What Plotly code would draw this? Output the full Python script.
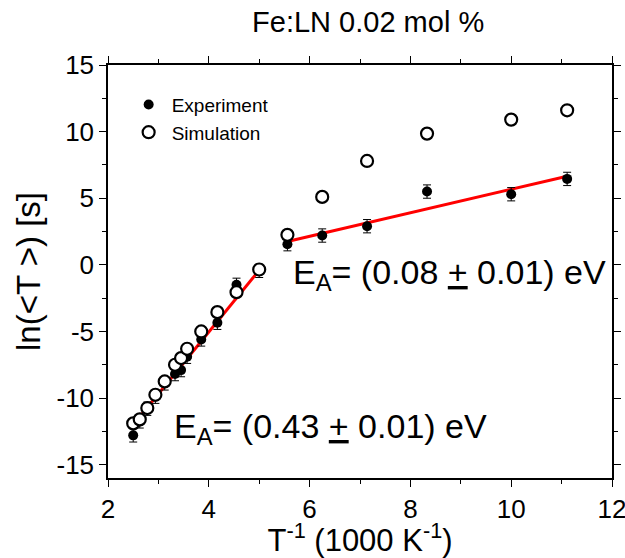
import plotly.graph_objects as go

# 1000/T values (1000 K^-1)
x_vals = [2.5, 2.63, 2.78, 2.94, 3.125, 3.33, 3.45, 3.57, 3.85, 4.17, 4.55, 5.0,
          5.56, 6.25, 7.14, 8.33, 10.0, 11.11]
exp_y = [-12.8, -11.75, -10.8, -9.9, -8.9, -8.2, -7.9, -6.9, -5.6, -4.35, -1.5, -0.45,
         1.55, 2.2, 2.9, 5.5, 5.3, 6.45]
exp_err = [0.5] * len(x_vals)
sim_y = [-11.9, -11.6, -10.75, -9.75, -8.75, -7.5, -7.0, -6.3, -5.0, -3.55, -2.05, -0.35,
         2.25, 5.1, 7.8, 9.85, 10.9, 11.6]

fit_low_x = [2.5, 5.0]
fit_low_y = [-12.0, -0.4]
fit_high_x = [5.56, 11.11]
fit_high_y = [1.75, 6.65]

x_tickvals = [2, 4, 6, 8, 10, 12]
x_ticktext = ["2", "4", "6", "8", "10", "12"]
y_tickvals = [-15, -10, -5, 0, 5, 10, 15]
y_ticktext = ["-15", "-10", "-5", "0", "5", "10", "15"]

FONT = "Arial, Liberation Sans, sans-serif"

fig = go.Figure()
fig.add_trace(go.Scatter(x=fit_low_x, y=fit_low_y, mode="lines",
                         line=dict(color="#ff0000", width=3), showlegend=False))
fig.add_trace(go.Scatter(x=fit_high_x, y=fit_high_y, mode="lines",
                         line=dict(color="#ff0000", width=3), showlegend=False))
fig.add_trace(go.Scatter(x=x_vals, y=exp_y, mode="markers", name="Experiment",
                         marker=dict(color="black", size=10),
                         error_y=dict(type="data", array=exp_err, color="black",
                                      thickness=1, width=4)))
fig.add_trace(go.Scatter(x=x_vals, y=sim_y, mode="markers", name="Simulation",
                         marker=dict(color="white", size=12, symbol="circle",
                                     line=dict(color="black", width=2.2))))

fig.add_annotation(x=6.41, y=-12.25, xref="x", yref="y", showarrow=False,
                   text="E<sub>A</sub>= (0.43 <u>+</u> 0.01) eV",
                   font=dict(family=FONT, size=34, color="black"))
fig.add_annotation(x=8.78, y=-0.75, xref="x", yref="y", showarrow=False,
                   text="E<sub>A</sub>= (0.08 <u>+</u> 0.01) eV",
                   font=dict(family=FONT, size=34, color="black"))

axis_common = dict(showline=True, linecolor="black", linewidth=1.5, mirror="allticks",
                   ticks="outside", ticklen=7, tickwidth=1.3, tickcolor="black",
                   showgrid=False, zeroline=False, automargin=False,
                   ticklabeloverflow="allow",
                   tickfont=dict(family=FONT, size=26, color="black"))

fig.update_xaxes(range=[2, 12], tickmode="array", tickvals=x_tickvals, ticktext=x_ticktext,
                 minor=dict(ticks="outside", ticklen=4, dtick=1, tick0=2,
                            tickcolor="black", tickwidth=1.2),
                 title=dict(text="T<sup>-1</sup> (1000 K<sup>-1</sup>)",
                            font=dict(family=FONT, size=31, color="black"), standoff=2),
                 **axis_common)
fig.update_yaxes(range=[-16, 15], tickmode="array", tickvals=y_tickvals, ticktext=y_ticktext,
                 minor=dict(ticks="outside", ticklen=4, dtick=2.5, tick0=0,
                            tickcolor="black", tickwidth=1.2),
                 title=dict(text="ln(<T >) [s]",
                            font=dict(family=FONT, size=33, color="black"), standoff=6),
                 **axis_common)

fig.update_layout(
    width=625, height=558,
    margin=dict(l=108, r=13, t=65, b=80),
    paper_bgcolor="white", plot_bgcolor="white",
    title=dict(text="Fe:LN 0.02 mol %", x=0.589, xanchor="center", y=0.96, yanchor="middle",
               font=dict(family=FONT, size=29, color="black")),
    legend=dict(x=0.035, y=0.95, xanchor="left", yanchor="top", bgcolor="rgba(0,0,0,0)",
                font=dict(family=FONT, size=19, color="black"), itemsizing="trace",
                itemwidth=36, tracegroupgap=0),
    font=dict(family=FONT),
)

fig.write_html("out.html")
